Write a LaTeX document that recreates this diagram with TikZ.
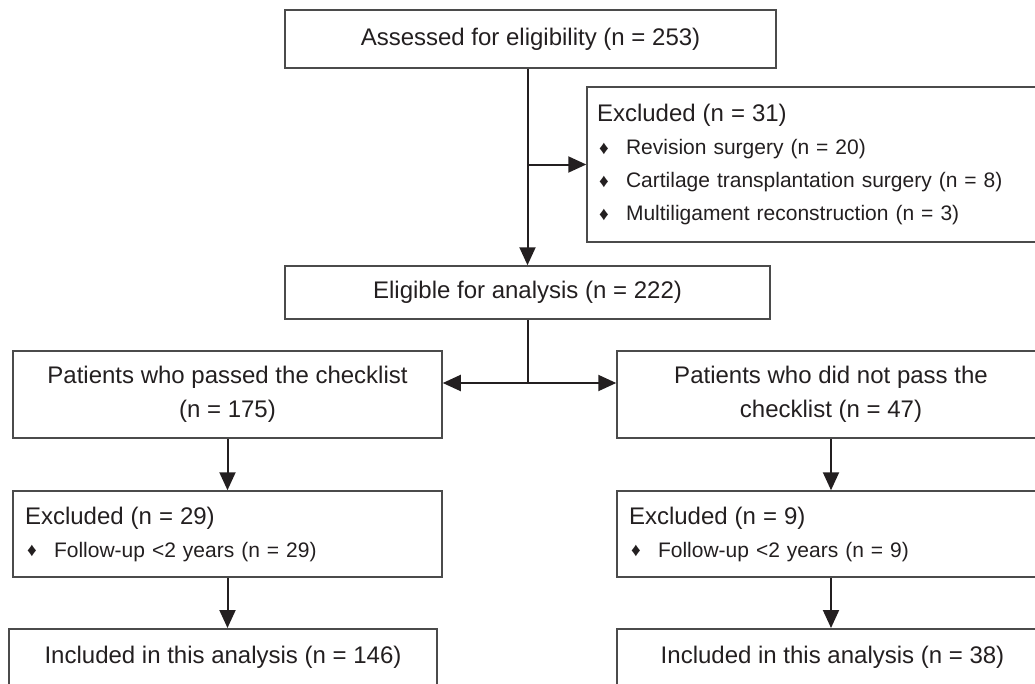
\documentclass[tikz,border=0pt]{standalone}
\usepackage{fontspec}
\setmainfont{Liberation Sans}
\usetikzlibrary{arrows.meta}
\definecolor{boxline}{RGB}{75,75,75}
\definecolor{ink}{RGB}{35,31,32}
\newcommand{\bulitem}[1]{\makebox[29pt][l]{\hspace{2pt}\raisebox{0.5pt}{\fontsize{19}{19}\selectfont ♦}}#1}
\tikzset{
    excl/.style={align=left, inner xsep=12pt, font=\fontsize{21}{33}\selectfont},
    incl/.style={anchor=north, text height=35pt, text depth=30pt},
}
\begin{document}
\begin{tikzpicture}[x=1pt, y=-1pt]
        \clip (0,0) rectangle (1035,683);
        \begin{scope}[every node/.style={draw=boxline, line width=1.5pt, text=ink, inner ysep=0pt, font=\fontsize{24}{34}\selectfont}]
            \node[minimum width=491, minimum height=58] (assess) at (530.5, 39) {Assessed for eligibility (n = 253)};
            \node[excl, inner xsep=10pt, text width=438, minimum height=155] (excl31) at (816, 164.5) {{\fontsize{24}{33}\selectfont Excluded (n = 31)}\\\bulitem{Revision surgery (n = 20)}\\\bulitem{Cartilage transplantation surgery (n = 8)}\\\bulitem{Multiligament reconstruction (n = 3)}};
            \node[minimum width=485, minimum height=53] (elig) at (527.5, 292.5) {Eligible for analysis (n = 222)};
            \node[align=center, minimum width=429, minimum height=87] (passed) at (227.5, 394.5) {Patients who passed the checklist\\(n = 175)};
            \node[align=center, minimum width=428, minimum height=87] (notpass) at (831, 394.5) {Patients who did not pass the\\checklist (n = 47)};
            \node[excl, text width=405, minimum height=86] (excl29) at (227.5, 534) {{\fontsize{24}{33}\selectfont Excluded (n = 29)}\\\bulitem{Follow-up <2 years (n = 29)}};
            \node[excl, text width=404, minimum height=86] (excl9) at (831, 534) {{\fontsize{24}{33}\selectfont Excluded (n = 9)}\\\bulitem{Follow-up <2 years (n = 9)}};
            \node[incl, minimum width=428] (incl146) at (223, 628) {Included in this analysis (n = 146)};
            \node[incl, minimum width=431] (incl38) at (832.5, 628) {Included in this analysis (n = 38)};
        \end{scope}
        \coordinate (split) at (527.5, 383);
        \begin{scope}[line width=2pt, draw=ink, -{Triangle[length=18pt, width=16pt]}]
            \draw (elig.north |- assess.south) -- (elig.north);
            \draw (elig.north |- excl31.west) -- (excl31.west);
            \draw [-] (elig.south) -- (split);
            \draw (split) -- (split -| passed.east);
            \draw (split) -- (split -| notpass.west);
            \draw (passed) -- (excl29);
            \draw (notpass) -- (excl9);
            \draw (excl29.south) -- (excl29.south |- incl146.north);
            \draw (excl9.south) -- (excl9.south |- incl38.north);
        \end{scope}
    \end{tikzpicture}
\end{document}
